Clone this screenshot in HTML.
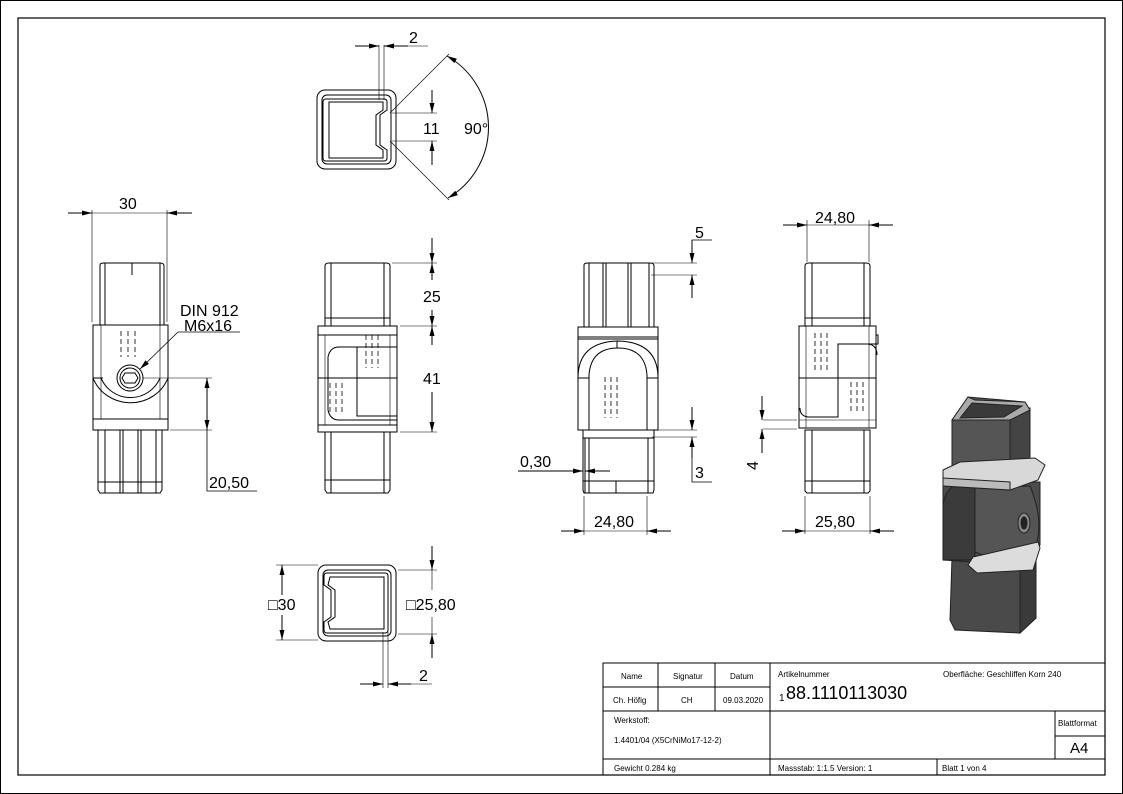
<!DOCTYPE html>
<html><head><meta charset="utf-8"><style>
html,body{margin:0;padding:0;background:#fff}
svg{display:block}
text{font-family:"Liberation Sans",sans-serif;fill:#000}
</style></head><body>
<svg width="1123" height="794" viewBox="0 0 1123 794" xmlns="http://www.w3.org/2000/svg">
<defs>
<marker id="a" viewBox="0 0 10 6" refX="10" refY="3" markerWidth="10" markerHeight="6" orient="auto-start-reverse" markerUnits="userSpaceOnUse"><path d="M0,0.5 L10,3 L0,5.5z" fill="#000"/></marker>
</defs>
<rect x="0.5" y="0.5" width="1122" height="793" fill="#fff" stroke="#000"/>
<rect x="18" y="18" width="1087" height="757" fill="none" stroke="#000" stroke-width="1.2"/>

<g fill="none" stroke="#000" stroke-width="1">
<!-- View 1 -->
<line x1="92" y1="210" x2="92" y2="322" stroke-width=".6"/>
<line x1="167" y1="210" x2="167" y2="322" stroke-width=".6"/>
<line x1="68" y1="213" x2="92" y2="213" marker-end="url(#a)"/>
<line x1="192" y1="213" x2="167" y2="213" marker-end="url(#a)"/>
<line x1="92" y1="213" x2="167" y2="213" stroke-width=".6"/>
<path d="M100,265 Q100,263 104,263 L160,263 Q164,263 164,266 L164,325 L100,325z"/>
<line x1="105" y1="263" x2="105" y2="325"/><line x1="160" y1="263" x2="160" y2="325"/><line x1="132" y1="263" x2="132" y2="275"/>
<rect x="93" y="325" width="75" height="94"/>
<line x1="101" y1="325" x2="101" y2="419" stroke-width=".6"/><line x1="160" y1="325" x2="160" y2="419" stroke-width=".6"/>
<path d="M93,378 A40,38 0 0 0 168,378" />
<path d="M101,378 A32,32 0 0 0 160,378" />
<line x1="93" y1="378" x2="103" y2="378"/>
<circle cx="130" cy="378" r="13"/><circle cx="130" cy="378" r="10"/><path d="M125,373 L135,373 L138,378 L135,383 L125,383 L122,378z"/>
<g stroke-dasharray="5,3" stroke-width=".8"><line x1="121" y1="331" x2="121" y2="357"/><line x1="128" y1="331" x2="128" y2="357"/><line x1="135" y1="331" x2="135" y2="357"/></g>
<rect x="93" y="419" width="75" height="11"/>
<path d="M98,430 L162,430 L162,490 L160,493 L100,493 L98,490z"/>
<line x1="105" y1="430" x2="105" y2="493"/><line x1="120" y1="430" x2="120" y2="493"/><line x1="123" y1="430" x2="123" y2="493"/><line x1="138" y1="430" x2="138" y2="493"/><line x1="141" y1="430" x2="141" y2="493"/><line x1="156" y1="430" x2="156" y2="493"/>
<line x1="98" y1="482" x2="162" y2="482"/>
<line x1="143" y1="378" x2="212" y2="378" stroke-width=".6"/>
<line x1="170" y1="430" x2="212" y2="430" stroke-width=".6"/>
<line x1="207" y1="405" x2="207" y2="378" marker-end="url(#a)"/>
<line x1="207" y1="405" x2="207" y2="430" marker-end="url(#a)"/>
<polyline points="207,430 207,491 257,491" stroke-width=".8"/>
<line x1="140" y1="369" x2="178" y2="332" marker-start="url(#a)" stroke-width=".8"/>
<line x1="178" y1="332" x2="240" y2="332" stroke-width=".8"/>

<!-- View 2 -->
<path d="M325,266 Q325,263 329,263 L386,263 Q390,263 390,266 L390,326 L325,326z"/>
<line x1="331" y1="263" x2="331" y2="326"/><line x1="384" y1="263" x2="384" y2="326"/><line x1="325" y1="318" x2="390" y2="318"/>
<rect x="318" y="326" width="79" height="9"/>
<rect x="318" y="335" width="79" height="90"/>
<line x1="318" y1="378" x2="397" y2="378"/>
<path d="M397,335 L397,347 L339,347 Q330,347 328,357 L328,410 Q330,420 339,420 L397,420" />
<path d="M357,347 L357,416 L397,416"/>
<line x1="325" y1="335" x2="325" y2="425" stroke-width=".6"/><line x1="390" y1="335" x2="390" y2="425" stroke-width=".6"/>
<g stroke-dasharray="5,3" stroke-width=".8"><line x1="366" y1="335" x2="366" y2="368"/><line x1="372" y1="335" x2="372" y2="368"/><line x1="378" y1="335" x2="378" y2="368"/>
<line x1="330" y1="383" x2="330" y2="414"/><line x1="336" y1="383" x2="336" y2="414"/><line x1="342" y1="383" x2="342" y2="414"/></g>
<rect x="318" y="425" width="79" height="7"/>
<path d="M325,432 L390,432 L390,490 L388,493 L327,493 L325,490z"/>
<line x1="331" y1="432" x2="331" y2="493"/><line x1="384" y1="432" x2="384" y2="493"/><line x1="325" y1="480" x2="390" y2="480"/>
<line x1="392" y1="263" x2="437" y2="263" stroke-width=".6"/>
<line x1="400" y1="326" x2="437" y2="326" stroke-width=".6"/>
<line x1="400" y1="432" x2="437" y2="432" stroke-width=".6"/>
<line x1="432" y1="238" x2="432" y2="263" marker-end="url(#a)"/>
<line x1="432" y1="280" x2="432" y2="263" marker-end="url(#a)"/>
<line x1="432" y1="310" x2="432" y2="326" marker-end="url(#a)"/>
<line x1="432" y1="345" x2="432" y2="326" marker-end="url(#a)"/>
<line x1="432" y1="392" x2="432" y2="432" marker-end="url(#a)"/>

<!-- View 3 -->
<path d="M584,265 Q584,263 588,263 L650,263 Q654,263 654,266 L654,327 L584,327z"/>
<line x1="603" y1="263" x2="603" y2="327"/><line x1="606" y1="263" x2="606" y2="327"/><line x1="628" y1="263" x2="628" y2="327"/><line x1="631" y1="263" x2="631" y2="327"/>
<line x1="589" y1="263" x2="589" y2="327"/><line x1="649" y1="263" x2="649" y2="327"/>
<rect x="578" y="327" width="80" height="103"/>
<line x1="578" y1="337" x2="658" y2="337"/><line x1="578" y1="339" x2="658" y2="339"/>
<path d="M578,378 Q578,342 618,341 Q658,342 658,378"/>
<path d="M589,378 L589,375 Q591,348 618,348 Q645,348 647,375 L647,430"/>
<line x1="589" y1="378" x2="589" y2="430"/>
<line x1="578" y1="378" x2="589" y2="378"/><line x1="647" y1="378" x2="658" y2="378"/>
<line x1="617" y1="341" x2="617" y2="348"/>
<g stroke-dasharray="5,3" stroke-width=".8"><line x1="605" y1="377" x2="605" y2="418"/><line x1="611" y1="377" x2="611" y2="418"/><line x1="617" y1="377" x2="617" y2="418"/></g>
<path d="M583,430 L654,430 L654,490 L653,493 L584,493 L583,490z"/>
<line x1="583" y1="438" x2="654" y2="438"/><line x1="585" y1="438" x2="585" y2="493"/><line x1="589" y1="438" x2="589" y2="493"/><line x1="648" y1="438" x2="648" y2="493"/>
<line x1="583" y1="481" x2="654" y2="481"/><line x1="616" y1="481" x2="616" y2="493"/>
<line x1="651" y1="263" x2="697" y2="263" stroke-width=".6"/>
<line x1="651" y1="275" x2="697" y2="275" stroke-width=".6"/>
<line x1="692" y1="240" x2="692" y2="263" marker-end="url(#a)"/>
<line x1="692" y1="298" x2="692" y2="275" marker-end="url(#a)"/>
<polyline points="692,263 692,240 712,240" stroke-width=".8"/>
<line x1="658" y1="430" x2="697" y2="430" stroke-width=".6"/>
<line x1="652" y1="437" x2="697" y2="437" stroke-width=".6"/>
<line x1="692" y1="407" x2="692" y2="430" marker-end="url(#a)"/>
<line x1="692" y1="458" x2="692" y2="437" marker-end="url(#a)"/>
<polyline points="692,437 692,482 712,482" stroke-width=".8"/>
<line x1="518" y1="471" x2="583" y2="471" marker-end="url(#a)"/>
<line x1="610" y1="471" x2="585" y2="471" marker-end="url(#a)"/>
<line x1="584" y1="496" x2="584" y2="535" stroke-width=".6"/>
<line x1="647" y1="496" x2="647" y2="535" stroke-width=".6"/>
<line x1="561" y1="531" x2="584" y2="531" marker-end="url(#a)"/>
<line x1="671" y1="531" x2="647" y2="531" marker-end="url(#a)"/>
<line x1="584" y1="531" x2="647" y2="531" stroke-width=".6"/>

<!-- View 4 -->
<line x1="807" y1="220" x2="807" y2="262" stroke-width=".6"/>
<line x1="869" y1="220" x2="869" y2="262" stroke-width=".6"/>
<line x1="783" y1="225" x2="807" y2="225" marker-end="url(#a)"/>
<line x1="893" y1="225" x2="869" y2="225" marker-end="url(#a)"/>
<line x1="807" y1="225" x2="869" y2="225" stroke-width=".6"/>
<path d="M805,266 Q805,263 809,263 L866,263 Q870,263 870,266 L870,326 L805,326z"/>
<line x1="812" y1="263" x2="812" y2="326"/><line x1="864" y1="263" x2="864" y2="326"/><line x1="805" y1="318" x2="870" y2="318"/>
<rect x="799" y="326" width="77" height="102" />
<line x1="799" y1="378" x2="876" y2="378"/>
<path d="M876,335 L878,335 L878,344 L838,344 L838,417 L808,417 Q800,416 800,408"/>
<path d="M838,344 L868,344 Q877,345 877,355"/>
<line x1="806" y1="326" x2="806" y2="428" stroke-width=".6"/><line x1="869" y1="326" x2="869" y2="428" stroke-width=".6"/>
<line x1="799" y1="420" x2="876" y2="420" stroke-width=".6"/>
<g stroke-dasharray="5,3" stroke-width=".8"><line x1="815" y1="333" x2="815" y2="370"/><line x1="821" y1="333" x2="821" y2="370"/><line x1="827" y1="333" x2="827" y2="370"/>
<line x1="851" y1="382" x2="851" y2="413"/><line x1="857" y1="382" x2="857" y2="413"/><line x1="863" y1="382" x2="863" y2="413"/></g>
<path d="M805,430 L870,430 L870,491 L868,493 L807,493 L805,491z"/>
<line x1="812" y1="430" x2="812" y2="493"/><line x1="864" y1="430" x2="864" y2="493"/><line x1="805" y1="481" x2="870" y2="481"/>
<line x1="763" y1="420" x2="797" y2="420" stroke-width=".6"/>
<line x1="763" y1="429" x2="797" y2="429" stroke-width=".6"/>
<line x1="762" y1="396" x2="762" y2="420" marker-end="url(#a)"/>
<line x1="762" y1="453" x2="762" y2="429" marker-end="url(#a)"/>
<line x1="805" y1="496" x2="805" y2="534" stroke-width=".6"/>
<line x1="870" y1="496" x2="870" y2="534" stroke-width=".6"/>
<line x1="782" y1="531" x2="805" y2="531" marker-end="url(#a)"/>
<line x1="894" y1="531" x2="870" y2="531" marker-end="url(#a)"/>
<line x1="805" y1="531" x2="870" y2="531" stroke-width=".6"/>

<!-- Top section -->
<rect x="317" y="90" width="79" height="79" rx="8"/>
<rect x="322" y="95" width="69" height="69" rx="5"/>
<path d="M326,99 L384,99 Q387,99 387,102 L387,110 L380,115 L380,145 L387,150 L387,158 Q387,161 384,161 L326,161 Q323,161 323,158 L323,102 Q323,99 326,99z"/>
<path d="M329,102 L383,102 L383,110 L376,115 L376,145 L383,150 L383,158 L329,158z"/>
<line x1="379" y1="45" x2="379" y2="100" stroke-width=".6"/>
<line x1="384" y1="45" x2="384" y2="100" stroke-width=".6"/>
<line x1="355" y1="46" x2="379" y2="46" marker-end="url(#a)"/>
<line x1="408" y1="46" x2="384" y2="46" marker-end="url(#a)"/>
<line x1="384" y1="46" x2="428" y2="46" stroke-width=".6"/>
<line x1="392" y1="113" x2="437" y2="113" stroke-width=".6"/>
<line x1="392" y1="141" x2="437" y2="141" stroke-width=".6"/>
<line x1="432" y1="90" x2="432" y2="113" marker-end="url(#a)"/>
<line x1="432" y1="165" x2="432" y2="141" marker-end="url(#a)"/>
<line x1="390" y1="113" x2="449" y2="54" stroke-width=".6"/>
<line x1="390" y1="141" x2="449" y2="200" stroke-width=".6"/>
<path d="M447,56 A82,82 0 0 1 448,198" marker-start="url(#a)" marker-end="url(#a)"/>

<!-- Bottom section -->
<rect x="318" y="565" width="78" height="76" rx="8"/>
<rect x="323" y="570" width="68" height="66" rx="5"/>
<path d="M327,573 L385,573 Q388,573 388,576 L388,630 Q388,633 385,633 L327,633 Q324,633 324,630 L324,622 L331,617 L331,590 L324,585 L324,576 Q324,573 327,573z"/>
<path d="M330,577 L384,577 L384,629 L330,629 L328,622 L335,617 L335,590 L328,585z"/>
<line x1="383" y1="632" x2="383" y2="688" stroke-width=".6"/>
<line x1="388" y1="632" x2="388" y2="688" stroke-width=".6"/>
<line x1="360" y1="684" x2="383" y2="684" marker-end="url(#a)"/>
<line x1="411" y1="684" x2="388" y2="684" marker-end="url(#a)"/>
<line x1="388" y1="684" x2="432" y2="684" stroke-width=".6"/>
<line x1="276" y1="565" x2="318" y2="565" stroke-width=".6"/>
<line x1="276" y1="640" x2="318" y2="640" stroke-width=".6"/>
<line x1="282" y1="595" x2="282" y2="565" marker-end="url(#a)"/>
<line x1="282" y1="615" x2="282" y2="640" marker-end="url(#a)"/>
<line x1="398" y1="570" x2="437" y2="570" stroke-width=".6"/>
<line x1="398" y1="634" x2="437" y2="634" stroke-width=".6"/>
<line x1="432" y1="546" x2="432" y2="570" marker-end="url(#a)"/>
<line x1="432" y1="658" x2="432" y2="634" marker-end="url(#a)"/>
<line x1="432" y1="634" x2="432" y2="617" stroke-width=".6"/>
<line x1="432" y1="570" x2="432" y2="590" stroke-width=".6"/>
</g>

<!-- 3D view -->
<g stroke="#222" stroke-width="1">
<!-- lower tube -->
<path d="M952,558 L1036,550 L1036,618 L1020,633 L955,630 L950,620z" fill="#4a4a4a"/>
<path d="M1020,565 L1036,552 L1036,618 L1020,633z" fill="#3a3a3a"/>
<!-- body -->
<path d="M943,482 L1040,482 L1040,545 L1030,560 L975,562 L943,560z" fill="#4c4c4c"/>
<path d="M943,505 Q946,485 960,485 L975,485 L975,560 L943,560z" fill="#3b3b3b"/>
<path d="M975,488 L1030,486 Q1044,520 1036,545 Q1020,562 995,560 L975,552z" fill="#555"/>
<ellipse cx="1024" cy="523" rx="6" ry="10" fill="#888"/><ellipse cx="1024" cy="523" rx="3" ry="6" fill="#222"/>
<!-- lower flange -->
<path d="M973,557 L1038,542 L1040,548 L1033,570 L977,573 L968,565z" fill="#dcdcdc"/>
<!-- top tube -->
<path d="M952,420 L968,397 L1025,402 L1030,410 L1030,468 L1010,480 L952,480z" fill="#555"/>
<path d="M1010,420 L1030,408 L1030,468 L1010,480z" fill="#444"/>
<path d="M952,420 L968,397 L975,400 L1025,402 L1030,410 L1010,420z" fill="#aaa"/>
<path d="M960,418 L972,403 L1022,406 L1004,417z" fill="#3a3a3a"/>
<!-- top flange -->
<path d="M943,470 L960,462 L1035,458 L1045,465 L1038,480 L1010,490 L943,486z" fill="#d8d8d8"/>
<path d="M943,478 L1010,482 L1010,490 L943,486z" fill="#bbb"/>
</g>

<!-- dimension text -->
<g font-size="16">
<text x="119" y="209">30</text>
<text x="180" y="316">DIN 912</text>
<text x="184" y="331">M6x16</text>
<text x="209" y="488">20,50</text>
<text x="423" y="302">25</text>
<text x="423" y="384">41</text>
<text x="409" y="43">2</text>
<text x="423" y="134">11</text>
<text x="464" y="134">90°</text>
<text x="695" y="238">5</text>
<text x="695" y="478">3</text>
<text x="520" y="467">0,30</text>
<text x="594" y="527">24,80</text>
<text x="815" y="223">24,80</text>
<text x="815" y="527">25,80</text>
<text x="268" y="610">□30</text>
<text x="406" y="610">□25,80</text>
<text x="419" y="681">2</text>
<text x="0" y="0" transform="translate(758,470) rotate(-90)">4</text>
</g>

<!-- title block -->
<g fill="none" stroke="#000" stroke-width="1">
<rect x="603" y="663" width="502" height="112"/>
<line x1="603" y1="687" x2="770" y2="687"/>
<line x1="603" y1="711" x2="1105" y2="711"/>
<line x1="603" y1="759" x2="1105" y2="759"/>
<line x1="658" y1="663" x2="658" y2="711"/>
<line x1="715" y1="663" x2="715" y2="711"/>
<line x1="770" y1="663" x2="770" y2="775"/>
<line x1="937" y1="759" x2="937" y2="775"/>
<line x1="1055" y1="711" x2="1055" y2="759"/>
<line x1="1055" y1="736" x2="1105" y2="736"/>
</g>
<g font-size="8">
<text x="621" y="679">Name</text>
<text x="673" y="679">Signatur</text>
<text x="730" y="679">Datum</text>
<text x="613" y="703">Ch. Höfig</text>
<text x="681" y="703">CH</text>
<text x="723" y="703">09.03.2020</text>
<text x="778" y="677">Artikelnummer</text>
<text x="943" y="677">Oberfläche:  Geschliffen Korn 240</text>
<text x="614" y="723">Werkstoff:</text>
<text x="614" y="743">1.4401/04 (X5CrNiMo17-12-2)</text>
<text x="1058" y="726">Blattformat</text>
<text x="614" y="771">Gewicht 0.284 kg</text>
<text x="778" y="771">Massstab: 1:1.5    Version: 1</text>
<text x="942" y="771">Blatt 1 von 4</text>
</g>
<text x="779" y="701" font-size="10">1</text>
<text x="786" y="699" font-size="18">88.1110113030</text>
<text x="1070" y="753" font-size="15">A4</text>
</svg>
</body></html>
